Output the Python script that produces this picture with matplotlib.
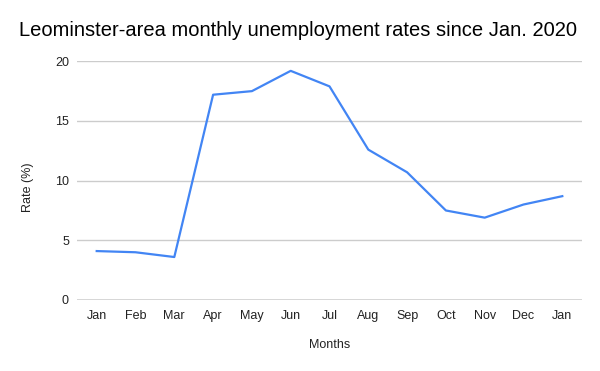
import matplotlib
matplotlib.use("Agg")
import matplotlib.pyplot as plt

months = ["Jan", "Feb", "Mar", "Apr", "May", "Jun", "Jul", "Aug", "Sep", "Oct", "Nov", "Dec", "Jan"]
rates = [4.1, 4.0, 3.6, 17.2, 17.5, 19.2, 17.9, 12.6, 10.7, 7.5, 6.9, 8.0, 8.7]
yticks = [0, 5, 10, 15, 20]

plt.rcParams['font.family'] = ['Liberation Sans', 'DejaVu Sans']

W, H = 600, 371
fig = plt.figure(figsize=(W / 100, H / 100), dpi=100)
ax = fig.add_axes([77.3 / W, 1 - 300 / H, (581.7 - 77.3) / W, (300 - 61.3) / H])

x = list(range(len(months)))
ax.plot(x, rates, color="#4285F4", linewidth=1.6, solid_joinstyle="round", zorder=3)

ax.set_xlim(-0.5, len(months) - 0.5)
ax.set_ylim(0, 20)
ax.set_yticks(yticks)
ax.set_yticklabels([str(v) for v in yticks])
ax.set_xticks(x)
ax.set_xticklabels(months)

for v in yticks[1:]:
    ax.axhline(v, color="#cccccc", linewidth=1.0, zorder=1)
ax.axhline(0, color="#333333", linewidth=1.0, zorder=2)

for s in ax.spines.values():
    s.set_visible(False)
ax.tick_params(axis="both", length=0, labelsize=9, colors="#222222")
ax.tick_params(axis="x", pad=7)
ax.tick_params(axis="y", pad=6)

fig.text(329.5 / W, 1 - 345 / H, "Months", ha="center", va="center", fontsize=9, color="#222222")
fig.text(28 / W, 1 - 187 / H, "Rate (%)", ha="center", va="center", rotation=90,
         fontsize=9, color="#222222")

fig.text(0.5 - 2 / W, 1 - 31 / H, "Leominster-area monthly unemployment rates since Jan. 2020",
         ha="center", va="center", fontsize=14.5, color="#000000")

fig.savefig("out.png", dpi=100, facecolor="white")
